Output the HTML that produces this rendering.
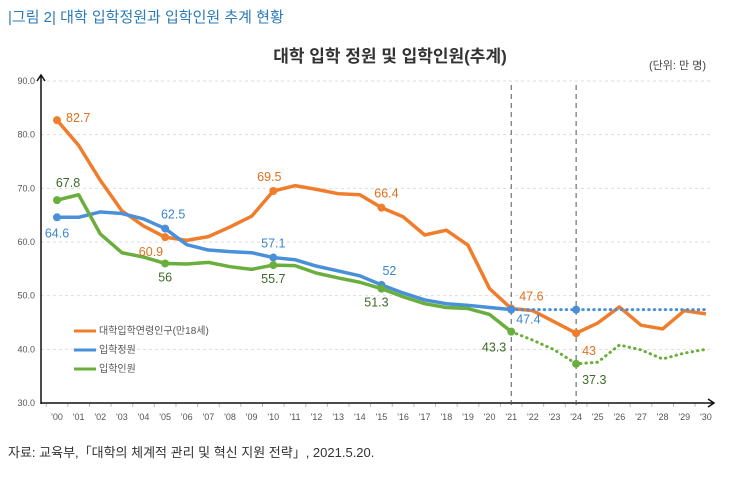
<!DOCTYPE html>
<html><head><meta charset="utf-8"><style>
body{margin:0;background:#fff;width:731px;height:479px;overflow:hidden;font-family:"Liberation Sans","Noto Sans CJK KR",sans-serif}
</style></head><body>
<svg width="731" height="479" xmlns="http://www.w3.org/2000/svg" font-family="Liberation Sans, Noto Sans CJK KR, sans-serif">
<text x="8" y="22" font-size="15" fill="#2a7ab8">|그림 2| 대학 입학정원과 입학인원 추계 현황</text>
<text x="390" y="62" font-size="17" font-weight="bold" fill="#333" text-anchor="middle">대학 입학 정원 및 입학인원(추계)</text>
<text x="706" y="69" font-size="11" fill="#444" text-anchor="end">(단위: 만 명)</text>
<text x="8" y="457" font-size="13" fill="#333">자료: 교육부,「대학의 체계적 관리 및 혁신 지원 전략」, 2021.5.20.</text>
<g id="grid"></g><g id="axes"></g><g id="series"></g><g id="labels"></g>
<g font-size="10" fill="#555">
<line x1="74" y1="331" x2="96" y2="331" stroke="#f07d2b" stroke-width="3"/>
<text x="99" y="334">대학입학연령인구(만18세)</text>
<line x1="74" y1="350" x2="96" y2="350" stroke="#4a90d9" stroke-width="3"/>
<text x="99" y="353">입학정원</text>
<line x1="74" y1="369" x2="96" y2="369" stroke="#6aaf3d" stroke-width="3"/>
<text x="99" y="372">입학인원</text>
</g>
</svg>
<script>
const years=["'00","'01","'02","'03","'04","'05","'06","'07","'08","'09","'10","'11","'12","'13","'14","'15","'16","'17","'18","'19","'20","'21","'22","'23","'24","'25","'26","'27","'28","'29","'30"];
const yTicks=[30,40,50,60,70,80,90];
const population=[82.7,78,71.5,65.8,63,60.9,60.3,61,62.8,64.8,69.5,70.5,69.8,69,68.8,66.4,64.7,61.3,62.2,59.4,51.3,47.6,47.2,45.1,43,44.9,47.9,44.5,43.8,47.2,46.6];
const quota=[64.6,64.6,65.6,65.3,64.3,62.5,59.5,58.5,58.2,58,57.1,56.7,55.5,54.6,53.7,52,50.5,49.2,48.5,48.2,47.8,47.4,47.4,47.4,47.4,47.4,47.4,47.4,47.4,47.4,47.4];
const enrollment=[67.8,68.8,61.5,58,57.2,56,55.9,56.2,55.4,54.9,55.7,55.6,54.2,53.3,52.5,51.3,49.8,48.5,47.8,47.6,46.5,43.3,41.7,39.9,37.3,37.6,40.8,39.9,38.2,39.3,40];
const markedIdx=[0,5,10,15,21,24];
const projStart=21;
const NS="http://www.w3.org/2000/svg";
const X=i=>57+i*21.63, Y=v=>403-(v-30)*5.367;
function mk(tag,attrs,parent){const e=document.createElementNS(NS,tag);for(const k in attrs)e.setAttribute(k,attrs[k]);parent.appendChild(e);return e;}
const grid=document.getElementById('grid'),axes=document.getElementById('axes'),ser=document.getElementById('series'),lab=document.getElementById('labels');
yTicks.forEach(t=>{
 if(t>30){const l=mk('line',{x1:41,x2:710,y1:Y(t),y2:Y(t),stroke:'#ddd','stroke-dasharray':'3,3'},grid);
 
 }
 const tx=mk('text',{x:35,y:Y(t)+3,'font-size':9,fill:'#555','text-anchor':'end'},axes);tx.textContent=t.toFixed(1);
 
 
});
years.forEach((y,i)=>{
 const tx=mk('text',{x:X(i),y:420,'font-size':9,fill:'#555','text-anchor':'middle'},axes);tx.textContent=y;
 
 
 mk('line',{x1:X(i)-10.8,x2:X(i)-10.8,y1:403,y2:407,stroke:'#bbb'},axes);
});
const ya=mk('path',{d:'M41 404 L41 76 M37 81 L41 75 L45 81',stroke:'#111','stroke-width':1.5,fill:'none'},axes);


const xa=mk('path',{d:'M41 403 L714 403 M708 399 L714 403 L708 407',stroke:'#111','stroke-width':1.5,fill:'none'},axes);


[21,24].forEach(i=>{const l=mk('line',{x1:X(i),x2:X(i),y1:85,y2:408,stroke:'#555','stroke-dasharray':'5,4'},axes);
 
 });
function pts(arr,a,b){return arr.slice(a,b+1).map((v,k)=>X(a+k)+','+Y(v)).join(' ');}
function series(arr,color,name,dotted){
 if(dotted){
  const s=mk('polyline',{points:pts(arr,0,projStart),fill:'none',stroke:color,'stroke-width':3.5,'stroke-linejoin':'round'},ser);
  
  
  const d=mk('polyline',{points:pts(arr,projStart,arr.length-1),fill:'none',stroke:color,'stroke-width':3,'stroke-dasharray':'0.5,5','stroke-linecap':'round'},ser);
  
  
 } else {
  const s=mk('polyline',{points:pts(arr,0,arr.length-1),fill:'none',stroke:color,'stroke-width':3.5,'stroke-linejoin':'round'},ser);
  
  
 }
 markedIdx.forEach(i=>{const c=mk('circle',{cx:X(i),cy:Y(arr[i]),r:4,fill:color},ser);
  
  });
}
series(population,'#f07d2b','population',false);
series(quota,'#4a90d9','quota',true);
series(enrollment,'#6aaf3d','enrollment',true);
function label(arr,i,dx,dy,color,anchor){
 const t=mk('text',{x:X(i)+dx,y:Y(arr[i])+dy,'font-size':12.5,fill:color,'text-anchor':anchor||'start'},lab);
 t.textContent=String(arr[i]);
 
 
}
const O='#e07020',B='#3a86cc',G='#3d6a28';
label(population,0,9,2,O);label(population,5,-2,19,O,'end');label(population,10,-4,-10,O,'middle');label(population,15,5,-10,O,'middle');label(population,21,8,-8,O);label(population,24,6,22,O);
label(quota,0,0,20,B,'middle');label(quota,5,8,-10,B,'middle');label(quota,10,0,-10,B,'middle');label(quota,15,8,-10,B,'middle');label(quota,21,5,14,B);
label(enrollment,0,11,-13,G,'middle');label(enrollment,5,0,18,G,'middle');label(enrollment,10,0,18,G,'middle');label(enrollment,15,-5,18,G,'middle');label(enrollment,21,-5,20,G,'end');label(enrollment,24,6,20,G);
</script>
</body></html>
